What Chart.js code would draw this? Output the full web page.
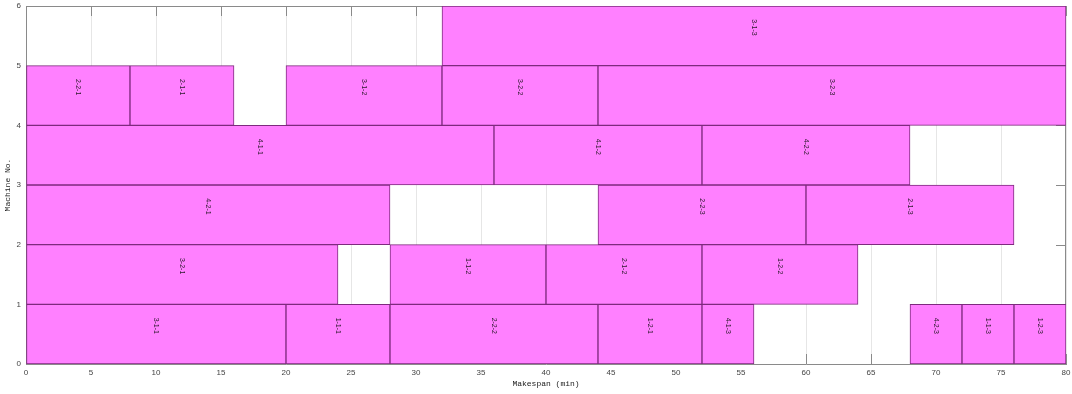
<!DOCTYPE html>
<html lang="en">
<head>
<meta charset="utf-8">
<title>Gantt</title>
<script src="https://cdn.jsdelivr.net/npm/chart.js@4.4.0/dist/chart.umd.min.js"></script>
<style>
body{margin:0;background:#fff}
#wrap{width:1072px;height:394px}
</style>
</head>
<body>
<div id="wrap"><canvas id="chart"></canvas></div>
<script>
/* operations: label, machine row (0-based), start, end */
const opLabels  = ['3-1-1','1-1-1','2-2-2','1-2-1','4-1-3','4-2-3','1-1-3','1-2-3',
                   '3-2-1','1-1-2','2-1-2','1-2-2',
                   '4-2-1','2-2-3','2-1-3',
                   '4-1-1','4-1-2','4-2-2',
                   '2-2-1','2-1-1','3-1-2','3-2-2','3-2-3',
                   '3-1-3'];
const machineRow = [0,0,0,0,0,0,0,0, 1,1,1,1, 2,2,2, 3,3,3, 4,4,4,4,4, 5];
const startTimes = [0,20,28,44,52,68,72,76, 0,28,40,52, 0,44,60, 0,36,52, 0,8,20,32,44, 32];
const endTimes   = [20,28,44,52,56,72,76,80, 24,40,52,64, 28,60,76, 36,52,68, 8,16,32,44,80, 80];

const xTicks = [0,5,10,15,20,25,30,35,40,45,50,55,60,65,70,75,80];
const yTicks = [0,1,2,3,4,5,6];

const bars = opLabels.map((l,i)=>({x:[startTimes[i],endTimes[i]], y:machineRow[i]+0.5}));

/* box + inward ticks, MATLAB style */
const boxPlugin = {
  id:'box',
  beforeDatasetsDraw(c){
    const {ctx, chartArea:a, scales:{x,y}} = c;
    ctx.save();
    ctx.strokeStyle='#8a8a8a'; ctx.lineWidth=1;
    ctx.beginPath();
    ctx.moveTo(a.left,a.top+0.5); ctx.lineTo(a.right,a.top+0.5);
    ctx.moveTo(a.right-0.5,a.top); ctx.lineTo(a.right-0.5,a.bottom);
    xTicks.forEach(v=>{
      const px=Math.round(x.getPixelForValue(v))+0.5;
      ctx.moveTo(px,a.bottom); ctx.lineTo(px,a.bottom-10);
      ctx.moveTo(px,a.top); ctx.lineTo(px,a.top+10);
    });
    yTicks.forEach(v=>{
      const py=Math.round(y.getPixelForValue(v))+0.5;
      ctx.moveTo(a.left,py); ctx.lineTo(a.left+10,py);
      ctx.moveTo(a.right,py); ctx.lineTo(a.right-10,py);
    });
    ctx.stroke();
    ctx.restore();
  },
  afterDatasetsDraw(c){
    const {ctx, scales:{x,y}} = c;
    ctx.save();
    ctx.fillStyle='#2a1a2a';
    ctx.font='7px "Liberation Sans"';
    ctx.textAlign='center'; ctx.textBaseline='middle';
    opLabels.forEach((l,i)=>{
      const px=x.getPixelForValue((startTimes[i]+endTimes[i])/2);
      const py=y.getPixelForValue(machineRow[i]+0.64);
      ctx.save();
      ctx.translate(px,py); ctx.rotate(Math.PI/2);
      ctx.fillText(l,0,0);
      ctx.restore();
    });
    ctx.restore();
  }
};

new Chart(document.getElementById('chart'),{
  type:'bar',
  data:{datasets:[{
    data:bars,
    backgroundColor:'#ff80ff',
    borderColor:'#7e2a7e',
    borderWidth:1,
    borderSkipped:false,
    barPercentage:1,
    categoryPercentage:1
  }]},
  options:{
    indexAxis:'y',
    responsive:true,
    maintainAspectRatio:false,
    animation:false,
    layout:{padding:{top:6,right:6,left:0,bottom:0}},
    scales:{
      x:{
        type:'linear', min:0, max:80,
        afterFit:s=>{s.height=30;s.paddingLeft=0;s.paddingRight=0;},
        afterBuildTicks:s=>{s.ticks=xTicks.map(v=>({value:v}));},
        ticks:{padding:4,color:'#444',font:{family:'Liberation Sans',size:8},maxRotation:0,autoSkip:false},
        grid:{color:'#e6e6e6',drawTicks:false},
        border:{color:'#8a8a8a'},
        title:{display:true,text:'Makespan (min)',color:'#222',padding:{top:0,bottom:5},
               font:{family:'Liberation Mono',size:8}}
      },
      y:{
        type:'linear', min:0, max:6, offset:false,
        afterFit:s=>{s.width=26;s.paddingTop=0;s.paddingBottom=0;},
        afterBuildTicks:s=>{s.ticks=yTicks.map(v=>({value:v}));},
        ticks:{padding:5,color:'#444',font:{family:'Liberation Sans',size:8}},
        grid:{display:false,drawTicks:false,offset:false},
        border:{color:'#8a8a8a'},
        title:{display:true,text:'Machine No.',color:'#222',padding:{top:3,bottom:0},
               font:{family:'Liberation Mono',size:8}}
      }
    },
    plugins:{legend:{display:false},tooltip:{enabled:false}}
  },
  plugins:[boxPlugin]
});
</script>
</body>
</html>
